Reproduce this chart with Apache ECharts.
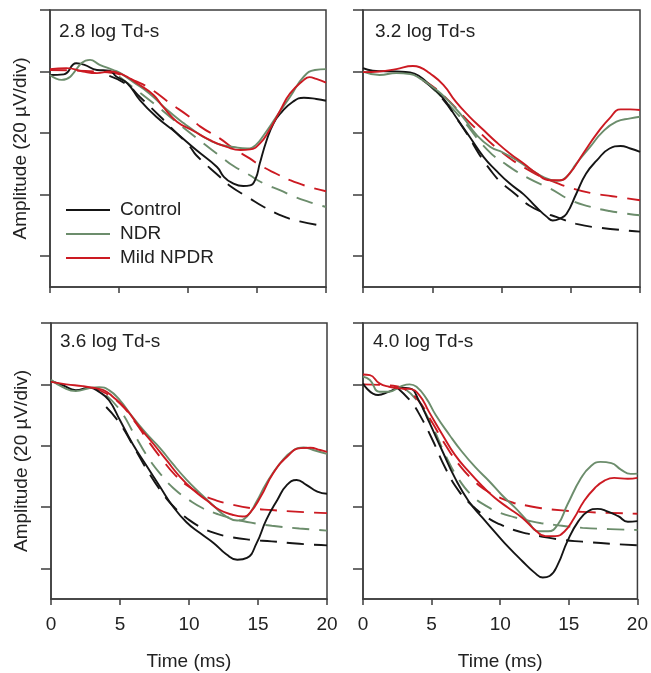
<!DOCTYPE html>
<html>
<head>
<meta charset="utf-8">
<script src="https://cdn.jsdelivr.net/npm/echarts@6/dist/echarts.min.js"></script>
<style>html,body{margin:0;padding:0;background:#fff}#c{width:651px;height:673px}</style>
</head>
<body>
<div id="c"></div>
<script>
// Time ticks (ms)
const xTicks = [0, 5, 10, 15, 20];
// amplitude ticks (µV), one division = 20 µV
const yTicks = [20, 0, -20, -40, -60];
const groups = ['Control', 'NDR', 'Mild NPDR'];
const titles = ['2.8 log Td-s', '3.2 log Td-s', '3.6 log Td-s', '4.0 log Td-s'];

// ---- 2.8 log Td-s ----
const tl_control = [[0,-1.1],[1,-0.9],[1.9,2.7],[2.5,2.2],[3.4,0.5],[4.3,0.3],[4.8,-1.6],[5.6,-3.8],[6.5,-9.2],[7.7,-14.7],[9.2,-20.1],[10.6,-25.5],[12.1,-31.0],[12.6,-34.2],[13.2,-36.2],[14.0,-37.2],[14.5,-37.0],[14.9,-34.8],[15.2,-29.9],[15.7,-22.3],[16.2,-16.8],[16.7,-13.6],[17.6,-9.8],[18.4,-8.5],[19.3,-8.9],[20,-9.5]];
const tl_control_fit = [[4.3,-1.4],[5.6,-4.3],[6.5,-8.2],[8.0,-14.7],[8.7,-17.9],[10.1,-24.2],[10.6,-27.2],[12.3,-34.2],[13.0,-37.0],[14.4,-41.0],[15.5,-44.0],[17.1,-47.4],[18.1,-48.7],[20,-50.3]];
const tl_ndr = [[0,-1.1],[0.85,-2.7],[2.9,3.8],[3.6,2.2],[4.6,0.5],[5.1,-0.5],[6.0,-3.3],[7.2,-7.1],[8.5,-12.5],[9.7,-16.8],[10.9,-20.6],[12.1,-23.4],[13.3,-24.5],[14.3,-25.0],[14.9,-23.9],[15.5,-20.6],[16.4,-14.7],[17.4,-8.2],[18.4,-1.6],[19.2,0.5],[20,0.8]];
const tl_ndr_fit = [[5,-1.6],[7.5,-10.3],[9,-15.8],[11.6,-25.0],[12.4,-27.7],[13.3,-30.7],[14.3,-33.2],[15.5,-36.4],[16.7,-38.6],[17.6,-40.5],[18.8,-42.4],[20,-44.0]];
const tl_npdr = [[0,0.8],[1.2,1.1],[2.4,0],[3.4,-0.5],[4.3,0],[5.3,-1.1],[6.3,-3.8],[7.5,-7.6],[8.2,-11.5],[9.2,-16.3],[10.4,-19.3],[11.6,-22.3],[12.8,-24.5],[13.8,-25.5],[14.5,-25.3],[15.2,-23.4],[15.9,-19.0],[16.7,-12.5],[17.4,-7.1],[18.4,-2.7],[18.8,-1.8],[19.3,-2.4],[20,-3.6]];
const tl_npdr_fit = [[0,0.5],[4.3,-0.3],[6,-2.7],[7.2,-5.4],[8.7,-10.3],[10.1,-14.7],[10.9,-17.9],[12.3,-21.7],[13.3,-25.0],[14.5,-28.3],[15.2,-30.4],[16.4,-33.2],[17.4,-35.3],[18.8,-37.5],[20,-38.9]];

// ---- 3.2 log Td-s ----
const tr_control = [[0,1.1],[0.7,0.3],[2.4,0],[3.4,-0.3],[4.1,-1.6],[4.8,-4.3],[5.8,-8.7],[6.7,-14.7],[7.7,-21.2],[8.7,-27.7],[9.6,-32.1],[10.6,-36.4],[11.6,-39.9],[12.5,-44.0],[13.3,-47.3],[13.7,-48.4],[14.2,-47.8],[14.7,-46.2],[15.4,-39.7],[16.1,-33.2],[16.9,-28.8],[17.8,-25.0],[18.6,-24.2],[19.3,-25.0],[20,-26.1]];
const tr_control_fit = [[4.3,-2.7],[5.5,-7.6],[7,-16.8],[9.4,-33.2],[11.1,-40.2],[12,-43.5],[13,-45.7],[14,-47.3],[15.4,-49.5],[17.2,-50.8],[20,-52.0]];
const tr_ndr = [[0,0],[1.2,-1.1],[2.4,-0.5],[3.4,-0.8],[4.1,-2.2],[5,-4.9],[6,-8.7],[7.2,-14.7],[8.2,-20.6],[9.2,-24.5],[10.1,-26.3],[11.1,-28.8],[12,-31.5],[13,-34.2],[14,-35.5],[14.7,-34.2],[15.4,-29.9],[16.4,-24.5],[17.3,-19.6],[18.3,-16.3],[19.3,-15.2],[20,-14.7]];
const tr_ndr_fit = [[4.8,-4.3],[7,-14.7],[9,-25.5],[10.4,-30.4],[12,-34.8],[13.5,-38.0],[15,-41.8],[16.3,-43.8],[17.8,-45.3],[20,-46.7]];
const tr_npdr = [[0,-0.2],[1.2,0],[2.4,0.8],[3.6,1.8],[4.1,1.4],[4.8,-0.5],[5.8,-4.3],[6.7,-9.8],[7.7,-14.7],[8.7,-19.0],[9.6,-22.8],[10.6,-26.6],[11.6,-29.9],[12.5,-33.0],[13.5,-35.3],[14.2,-35.3],[14.9,-33.2],[15.9,-26.6],[16.9,-20.1],[17.8,-15.2],[18.6,-12.3],[19.3,-12.3],[20,-12.5]];
const tr_npdr_fit = [[4.3,-2.7],[5.5,-6.5],[8,-17.9],[10,-26.1],[12,-32.1],[13.5,-35.3],[15,-37.8],[16.5,-39.5],[18,-40.5],[20,-41.8]];

// ---- 3.6 log Td-s ----
const bl_control = [[0,1.1],[0.85,-0.3],[1.8,-1.9],[2.8,-1.1],[3.5,-2.5],[4.2,-5.2],[5,-11.7],[5.9,-19.3],[6.9,-26.4],[7.9,-33.4],[8.8,-39.6],[9.8,-44.9],[10.8,-48.5],[11.8,-51.8],[12.7,-55.4],[13.5,-57.2],[14.2,-56.6],[14.9,-51.8],[15.6,-44.2],[16.4,-37.7],[17.1,-32.8],[17.8,-31.2],[18.5,-32.8],[19.3,-35.0],[20,-35.7]];
const bl_control_fit = [[4,-7.4],[5,-12.8],[6,-20.4],[7,-28.2],[8,-35.0],[9,-40.4],[10,-44.2],[11,-46.9],[12,-48.7],[13,-49.8],[14.5,-50.7],[16,-51.2],[18,-52.0],[20,-52.5]];
const bl_ndr = [[0,1.5],[0.85,-0.9],[1.8,-2.2],[2.8,-1.2],[3.5,-0.9],[4.2,-1.9],[5,-5.2],[5.9,-10.6],[6.9,-16.0],[7.9,-20.8],[8.8,-25.8],[9.8,-31.0],[10.8,-35.5],[11.8,-39.7],[12.7,-43.1],[13.5,-44.4],[14.2,-43.1],[14.9,-38.2],[15.6,-32.3],[16.6,-25.8],[17.6,-21.4],[18.3,-20.6],[19,-21.4],[20,-22.7]];
const bl_ndr_fit = [[4,-3.6],[5,-8.4],[6,-16.0],[7,-23.6],[8,-29.6],[9,-34.4],[10,-37.7],[11,-40.4],[12,-42.2],[13,-43.6],[14.5,-45.1],[16,-46.1],[18,-47.0],[20,-47.7]];
const bl_npdr = [[0,0.8],[1.1,0],[2.3,-0.6],[3,-1.1],[3.8,-1.9],[4.5,-4.1],[5.5,-8.4],[6.4,-13.9],[7.4,-19.3],[8.4,-24.9],[9.3,-29.9],[10.3,-34.4],[11.3,-37.9],[12.2,-40.9],[13.2,-42.6],[13.9,-43.1],[14.4,-42.0],[15.2,-36.6],[16.1,-29.0],[17.1,-23.6],[18.1,-20.8],[18.8,-20.7],[19.5,-21.4],[20,-22.0]];
const bl_npdr_fit = [[3,-1.1],[4,-3.0],[5,-6.3],[6,-11.7],[7,-18.2],[8,-24.2],[9,-29.6],[10,-33.4],[11,-36.1],[12,-37.9],[13,-39.1],[14.5,-40.4],[16,-41.0],[18,-41.6],[20,-42.0]];

// ---- 4.0 log Td-s ----
const br_control = [[0,0.3],[1.1,-3.5],[1.9,-2.4],[2.7,-1.1],[3.4,-1.3],[4.1,-5.6],[4.8,-12.1],[5.8,-21.9],[6.7,-30.5],[7.7,-38.1],[8.7,-43.5],[9.6,-48.1],[10.6,-53.1],[11.6,-57.6],[12.5,-61.4],[13.1,-63.0],[13.6,-62.5],[14.2,-58.7],[14.9,-51.1],[15.7,-44.6],[16.4,-41.4],[17.1,-40.6],[17.8,-41.4],[18.6,-43.0],[19.3,-44.8],[20,-44.6]];
const br_control_fit = [[2.5,-1.1],[3.5,-5.6],[4,-8.9],[5,-17.5],[6,-27.3],[7,-34.9],[8,-39.7],[9,-43.3],[10,-45.7],[11,-47.5],[12,-48.7],[13,-49.6],[14.5,-50.7],[16,-51.3],[18,-52.0],[20,-52.5]];
const br_ndr = [[0,2.5],[0.5,1.4],[1.2,-2.4],[1.9,-2.4],[2.7,-0.8],[3.4,0],[3.9,-0.8],[4.6,-4.5],[5.3,-10.0],[6.3,-16.5],[7.2,-21.9],[8.2,-27.1],[9.2,-31.6],[10.1,-36.0],[11.1,-40.3],[12,-44.6],[12.8,-47.9],[13.5,-47.9],[14.2,-45.7],[14.9,-39.2],[15.9,-30.5],[16.6,-26.7],[17.3,-25.3],[18.1,-25.7],[18.8,-27.8],[19.5,-29.2],[20,-29.1]];
const br_ndr_fit = [[3,-1.3],[4,-5.6],[5,-13.2],[6,-23.0],[7,-31.1],[8,-36.5],[9,-39.7],[10,-41.9],[11,-43.3],[12,-44.4],[13,-45.3],[14.5,-46.1],[16,-46.8],[18,-47.2],[20,-47.5]];
const br_npdr = [[0,3.2],[0.5,3.0],[1.2,0.3],[1.9,-0.8],[2.7,-1.3],[3.4,-1.5],[4.1,-3.5],[4.8,-8.9],[5.8,-16.5],[6.7,-23.0],[7.7,-28.4],[8.7,-33.2],[9.6,-37.0],[10.6,-40.3],[11.6,-43.5],[12.5,-47.3],[13.3,-49.5],[14,-49.5],[14.7,-47.9],[15.4,-43.5],[16.1,-38.1],[16.9,-33.8],[17.6,-31.4],[18.3,-30.5],[19.3,-30.8],[20,-30.5]];
const br_npdr_fit = [[0,0],[2,-0.4],[3,-1.5],[4,-5.1],[5,-12.1],[6,-19.7],[7,-26.2],[8,-31.1],[9,-34.7],[10,-37.0],[11,-38.7],[12,-39.6],[13,-40.4],[14.5,-41.1],[16,-41.6],[18,-41.9],[20,-42.2]];

const panelData = [
  [[tl_control, tl_control_fit], [tl_ndr, tl_ndr_fit], [tl_npdr, tl_npdr_fit]],
  [[tr_control, tr_control_fit], [tr_ndr, tr_ndr_fit], [tr_npdr, tr_npdr_fit]],
  [[bl_control, bl_control_fit], [bl_ndr, bl_ndr_fit], [bl_npdr, bl_npdr_fit]],
  [[br_control, br_control_fit], [br_ndr, br_ndr_fit], [br_npdr, br_npdr_fit]]
];

const colors = ['#151515', '#6c8d6c', '#cc1a22'];
const axisColor = '#3c3c3c';
const FONT = 'Liberation Sans, Arial, sans-serif';
const grids = [
  {left: 50, top: 10, width: 276, height: 277},
  {left: 363, top: 10, width: 277, height: 277},
  {left: 51, top: 323, width: 276, height: 276},
  {left: 363, top: 323, width: 277, height: 276}
];
const titlePos = [[59, 22], [375, 22], [60, 332], [373, 332]];

const option = {
  animation: false,
  backgroundColor: '#fff',
  grid: grids.map(g => Object.assign({show: true, borderColor: axisColor, borderWidth: 1.5, backgroundColor: 'transparent'}, g)),
  title: titles.map((t, i) => ({
    text: t, left: titlePos[i][0], top: titlePos[i][1], padding: 0,
    textStyle: {fontSize: 19, fontWeight: 'normal', color: '#222', fontFamily: FONT}
  })),
  legend: {
    data: groups, orient: 'vertical', left: 66, top: 200, padding: 0,
    icon: 'rect', itemWidth: 44, itemHeight: 2, itemGap: 4,
    textStyle: {fontSize: 19, color: '#222', fontFamily: FONT, lineHeight: 20, padding: [0, 0, 0, 5]}
  },
  xAxis: grids.map((g, i) => ({
    gridIndex: i, type: 'value', min: xTicks[0], max: xTicks[xTicks.length - 1], interval: 5,
    axisLine: {show: true, onZero: false, lineStyle: {color: axisColor, width: 1.5}},
    axisTick: {show: true, inside: false, length: 6, lineStyle: {color: axisColor, width: 1.5}},
    axisLabel: {show: i >= 2, fontSize: 19, color: '#222', fontFamily: FONT, margin: 16},
    splitLine: {show: false},
    name: i >= 2 ? 'Time (ms)' : '', nameLocation: 'middle', nameGap: 53,
    nameTextStyle: {fontSize: 19, color: '#222', fontFamily: FONT}
  })),
  yAxis: grids.map((g, i) => ({
    gridIndex: i, type: 'value', min: -70, max: 20,
    axisLine: {show: true, onZero: false, lineStyle: {color: axisColor, width: 1.5}},
    axisTick: {show: true, inside: false, length: 10, customValues: yTicks, lineStyle: {color: axisColor, width: 1.5}},
    axisLabel: {show: false},
    splitLine: {show: false},
    name: (i % 2 === 0) ? 'Amplitude (20 µV/div)' : '', nameLocation: 'middle', nameGap: 20,
    nameTextStyle: {fontSize: 19, color: '#222', fontFamily: FONT}
  })),
  series: []
};

panelData.forEach((panel, pi) => {
  panel.forEach((pair, gi) => {
    option.series.push({
      name: groups[gi] + ' fit', type: 'line', xAxisIndex: pi, yAxisIndex: pi,
      data: pair[1], showSymbol: false, symbol: 'none', smooth: 0.5,
      lineStyle: {color: colors[gi], width: 1.9, type: [17, 10]}, itemStyle: {color: colors[gi]},
      z: 2, silent: true
    });
  });
  panel.forEach((pair, gi) => {
    option.series.push({
      name: groups[gi], type: 'line', xAxisIndex: pi, yAxisIndex: pi,
      data: pair[0], showSymbol: false, symbol: 'none', smooth: 0.5,
      lineStyle: {color: colors[gi], width: 1.9, type: 'solid'}, itemStyle: {color: colors[gi]},
      z: 3
    });
  });
});

const chart = echarts.init(document.getElementById('c'), null, {renderer: 'canvas'});
chart.setOption(option);
</script>
</body>
</html>
